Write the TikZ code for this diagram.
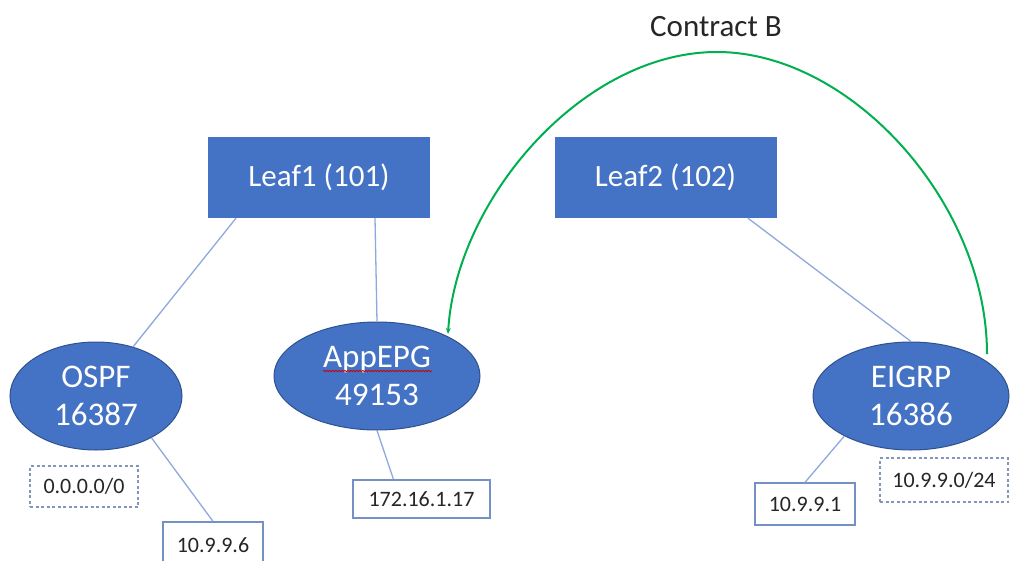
\documentclass[tikz,border=0pt]{standalone}
\usepackage{fontspec}
\setmainfont{Carlito}
\usetikzlibrary{shapes.geometric,arrows.meta,calc,decorations.pathmorphing}
\definecolor{blueFill}{HTML}{4472C4}
\definecolor{blueEdge}{HTML}{2F528F}
\definecolor{linkBlue}{HTML}{8EA9DB}
\definecolor{boxEdge}{HTML}{7490C4}
\definecolor{dashEdge}{HTML}{8296BC}
\definecolor{contractGreen}{HTML}{00B050}
\definecolor{textDark}{HTML}{262626}
\begin{document}
\begin{tikzpicture}[x=1pt,y=-1pt,
  leafbox/.style={rectangle,fill=blueFill,draw=none,minimum width=222pt,minimum height=81pt,inner sep=0pt,text=white,font=\fontsize{31}{36}\selectfont},
  epg/.style={ellipse,fill=blueFill,draw=blueEdge,line width=1pt,inner sep=0pt,text=white,align=center,font=\fontsize{33}{38}\selectfont},
  ipbox/.style={rectangle,draw=boxEdge,line width=1.3pt,fill=white,inner sep=0pt,text=textDark,font=\fontsize{22}{24}\selectfont},
  netbox/.style={rectangle,draw=dashEdge,line width=1.2pt,dash pattern=on 3pt off 2.5pt,inner sep=0pt,text=textDark,font=\fontsize{22}{24}\selectfont},
  link/.style={draw=linkBlue,line width=1.3pt},
  contract/.style={draw=contractGreen,line width=2pt,-{Stealth[length=6pt,width=5pt]}}
]
\useasboundingbox (0,0) rectangle (1010,560);
\fill[white] (0,0) rectangle (1010,560);

\node[leafbox] (leaf1) at (319,177.5) {Leaf1 (101)};
\node[leafbox] (leaf2) at (665.5,177.5) {Leaf2 (102)};

\node[epg,minimum width=172pt,minimum height=108pt] (ospf) at (96,396) {OSPF\\16387};
\node[epg,minimum width=206pt,minimum height=108pt] (app) at (377,376) {AppEPG\\49153};
\node[epg,minimum width=196pt,minimum height=108pt] (eigrp) at (911,396) {EIGRP\\16386};

\node[netbox,minimum width=108pt,minimum height=41pt] (def) at (84,486.5) {0.0.0.0/0};
\node[ipbox,minimum width=100pt,minimum height=46pt] (h6) at (213,545) {10.9.9.6};
\node[ipbox,minimum width=137pt,minimum height=38pt] (h17) at (421.5,499) {172.16.1.17};
\node[ipbox,minimum width=100pt,minimum height=42pt] (h1) at (805,504) {10.9.9.1};
\node[netbox,minimum width=128pt,minimum height=44pt] (net24) at (944,480) {10.9.9.0/24};

\node[text=textDark,font=\fontsize{31}{36}\selectfont] (clabel) at (716,27) {Contract B};

\draw[link] ($(leaf1.south)+(-83,0)$) -- (ospf.53);
\draw[link] ($(leaf1.south)+(56,0)$) -- (app.north);
\draw[link] ($(leaf2.south)+(82.5,0)$) -- (eigrp.north);
\draw[link] (ospf.-37) -- (h6.north);
\draw[link] (app.south) -- ($(h17.north)+(-28,0)$);
\draw[link] (eigrp.-149) -- (h1.north);

\coordinate (cstart) at ($(eigrp.center)+(76,-42)$);
\coordinate (ctop) at (717,52);
\coordinate (cend) at ($(app.center)+(71,-42)$);
\draw[contract] (cstart) .. controls (987,203) and (851,52) .. (ctop)
  .. controls (582,52) and (456,200) .. (cend);

\draw[red!80!black,line width=0.8pt,decorate,decoration={snake,amplitude=0.7pt,segment length=3pt}] (323,371) -- (432,371);
\end{tikzpicture}
\end{document}
